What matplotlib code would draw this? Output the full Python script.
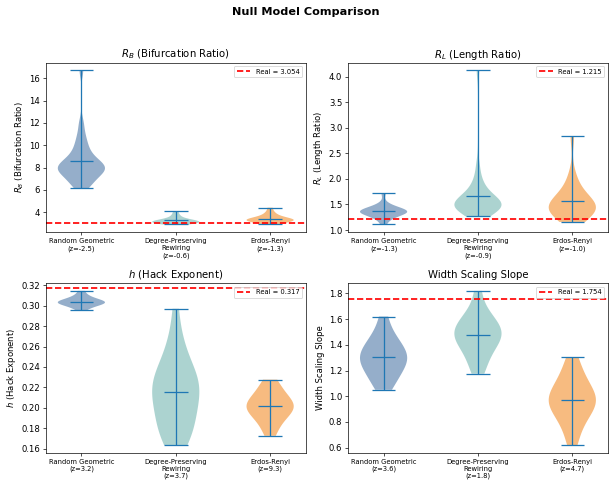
import matplotlib
matplotlib.use("Agg")
import matplotlib.pyplot as plt
import numpy as np

# null model names and z-scores per metric
models = ["Random Geometric", "Degree-Preserving\nRewiring", "Erdos-Renyi"]
colors = ["#4E79A7", "#76B7B2", "#F28E2B"]

titles = [r"$R_B$ (Bifurcation Ratio)", r"$R_L$ (Length Ratio)",
          r"$h$ (Hack Exponent)", "Width Scaling Slope"]
real_values = [3.054, 1.215, 0.317, 1.754]
z_scores = [[-2.5, -0.6, -1.3],
            [-1.3, -0.9, -1.0],
            [3.2, 3.7, 9.3],
            [3.6, 1.8, 4.7]]

# null model samples
rb_rg = [6.15, 6.35, 6.6, 6.8, 7.0, 7.2, 7.35, 7.5, 7.6, 7.7, 7.8, 7.9, 7.95,
         8.0, 8.1, 8.2, 8.3, 8.4, 8.55, 8.7, 8.9, 9.1, 9.4, 9.7, 10.1, 10.5,
         11.1, 12.0, 16.7]
rb_dp = [2.9, 2.95, 3.0, 3.05, 3.05, 3.1, 3.1, 3.15, 3.15, 3.2, 3.2, 3.25, 3.3,
         3.35, 3.45, 3.6, 3.8, 4.1]
rb_er = [2.95, 3.05, 3.1, 3.15, 3.2, 3.25, 3.25, 3.3, 3.3, 3.35, 3.35, 3.4,
         3.45, 3.5, 3.6, 3.7, 3.85, 4.05, 4.4]

rl_rg = [1.11, 1.2, 1.25, 1.28, 1.3, 1.32, 1.33, 1.34, 1.35, 1.36, 1.37, 1.38,
         1.39, 1.4, 1.41, 1.43, 1.46, 1.52, 1.72]
rl_dp = [1.27, 1.3, 1.33, 1.36, 1.38, 1.4, 1.42, 1.43, 1.45, 1.46, 1.47, 1.48,
         1.5, 1.51, 1.52, 1.53, 1.55, 1.57, 1.59, 1.61, 1.63, 1.66, 1.7, 1.74,
         1.8, 1.86, 1.94, 2.06, 2.28, 4.12]
rl_er = [1.16, 1.22, 1.27, 1.31, 1.34, 1.37, 1.39, 1.41, 1.43, 1.45, 1.47, 1.5,
         1.53, 1.56, 1.6, 1.65, 1.72, 1.8, 1.92, 2.1, 2.83]

h_rg = [0.2955, 0.298, 0.2995, 0.3005, 0.3015, 0.302, 0.3025, 0.303, 0.3035,
        0.304, 0.3045, 0.305, 0.306, 0.307, 0.3085, 0.3105, 0.3145]
h_dp = [0.1635, 0.167, 0.171, 0.176, 0.181, 0.186, 0.191, 0.196, 0.201, 0.205,
        0.209, 0.213, 0.217, 0.22, 0.223, 0.226, 0.229, 0.233, 0.238, 0.242,
        0.25, 0.262, 0.27, 0.297]
h_er = [0.1725, 0.18, 0.186, 0.19, 0.193, 0.196, 0.198, 0.2, 0.201, 0.203,
        0.205, 0.207, 0.21, 0.213, 0.217, 0.222, 0.2275]

ws_rg = [1.05, 1.1, 1.14, 1.18, 1.21, 1.24, 1.26, 1.28, 1.3, 1.32, 1.34, 1.36,
         1.39, 1.42, 1.46, 1.51, 1.62]
ws_dp = [1.175, 1.24, 1.3, 1.35, 1.39, 1.42, 1.44, 1.46, 1.48, 1.5, 1.52, 1.54,
         1.56, 1.59, 1.63, 1.68, 1.82]
ws_er = [0.62, 0.72, 0.79, 0.84, 0.88, 0.91, 0.93, 0.95, 0.97, 0.99, 1.01, 1.04,
         1.07, 1.11, 1.16, 1.22, 1.305]

samples = [[rb_rg, rb_dp, rb_er],
           [rl_rg, rl_dp, rl_er],
           [h_rg, h_dp, h_er],
           [ws_rg, ws_dp, ws_er]]

# kde bandwidth per violin (None = scott)
bandwidths = [[0.28, None, None],
              [None, 0.3, None],
              [None, None, None],
              [None, None, None]]

dpi = 61.1
fig, axes = plt.subplots(2, 2, figsize=(611 / dpi, 482 / dpi), dpi=dpi)
fig.subplots_adjust(left=0.0753, right=0.9946, bottom=0.0608, top=0.870,
                    wspace=0.1645, hspace=0.301)
fig.suptitle("Null Model Comparison", fontsize=13.3, fontweight="bold", y=0.985)

for i, ax in enumerate(axes.flat):
    for k in range(3):
        parts = ax.violinplot([samples[i][k]], positions=[k + 1], showmeans=True,
                              bw_method=bandwidths[i][k])
        for body in parts["bodies"]:
            body.set_facecolor(colors[k])
            body.set_edgecolor("none")
            body.set_alpha(0.6)
        for key in ["cbars", "cmins", "cmaxes", "cmeans"]:
            parts[key].set_color("#1f77b4")
    ax.set_xlim(0.625, 3.375)
    ylim = ax.get_ylim()
    ax.axhline(real_values[i], color="red", linestyle="--", linewidth=2,
               label=f"Real = {real_values[i]:.3f}")
    ax.set_ylim(ylim)
    labels = [f"{m}\n(z={z:.1f})" for m, z in zip(models, z_scores[i])]
    ax.set_xticks([1, 2, 3])
    ax.set_xticklabels(labels, fontsize=8)
    ax.set_ylabel(titles[i])
    ax.set_title(titles[i], fontsize=12)
    ax.legend(loc="upper right", fontsize=8)

fig.savefig("out.png", dpi=dpi)
